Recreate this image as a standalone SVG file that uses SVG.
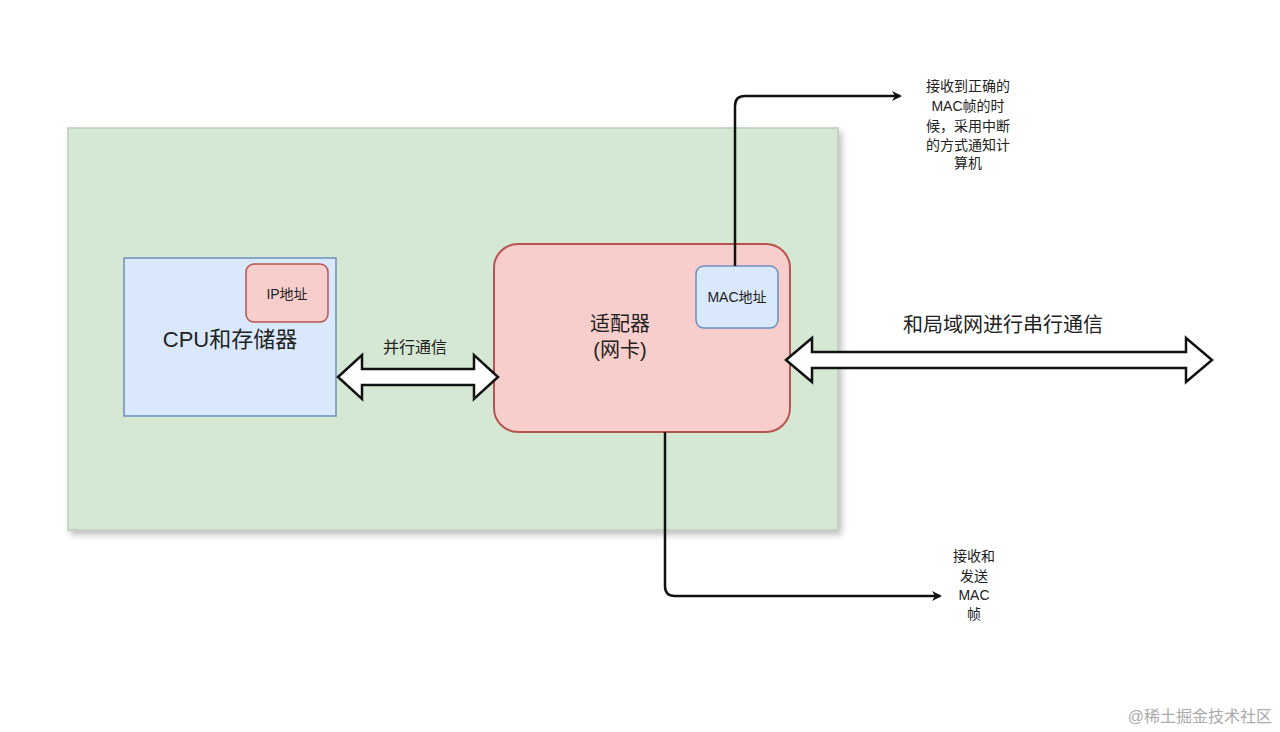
<svg xmlns="http://www.w3.org/2000/svg" width="1280" height="732" viewBox="0 0 1280 732">
<defs>
<style>
text{font-family:"Liberation Sans","Noto Sans CJK SC",sans-serif;fill:#222}
.c{stroke:#111;stroke-width:2.5;fill:none}
.da{fill:#fff;stroke:#111;stroke-width:2.5;stroke-linejoin:miter}
</style>
<marker id="ah" markerWidth="10" markerHeight="10" refX="8" refY="5" orient="auto" markerUnits="userSpaceOnUse" viewBox="0 0 10 10"><path d="M0,0 L10,5 L0,10 L3,5 Z" fill="#111"/></marker>
<filter id="sh"><feDropShadow dx="3" dy="4" stdDeviation="3" flood-opacity="0.25"/></filter>
</defs>
<rect width="1280" height="732" fill="#fff"/>
<g id="board"><rect x="68" y="128" width="770" height="402" fill="#d5e8d4" stroke="#b9cdb7" stroke-width="1.5" filter="url(#sh)"/></g>
<g id="cpu"><rect x="124" y="258" width="212" height="158" fill="#dae8fc" stroke="#6c8ebf" stroke-width="1.5"/>
<text x="230" y="347" font-size="22" text-anchor="middle">CPU和存储器</text></g>
<g id="ip"><rect x="246" y="264" width="82" height="58" rx="8" fill="#f8cecc" stroke="#b85450" stroke-width="1.5"/>
<text x="287" y="299" font-size="14" text-anchor="middle">IP地址</text></g>
<g id="adapter"><rect x="494" y="244" width="296" height="188" rx="24" fill="#f8cecc" stroke="#b85450" stroke-width="2"/>
<text x="620" y="331" font-size="20" text-anchor="middle">适配器</text>
<text x="620" y="357" font-size="20" text-anchor="middle">(网卡)</text></g>
<g id="mac"><rect x="696" y="266" width="82" height="62" rx="8" fill="#dae8fc" stroke="#6c8ebf" stroke-width="1.5"/>
<text x="737" y="302" font-size="14" text-anchor="middle">MAC地址</text></g>
<g id="connectors">
<path class="da" d="M338,377 L362,355 L362,369 L474,369 L474,355 L498,377 L474,399 L474,385 L362,385 L362,399 Z"/>
<path class="da" d="M786,360 L812,338 L812,352 L1186,352 L1186,338 L1212,360 L1186,382 L1186,368 L812,368 L812,382 Z"/>
<path class="c" d="M735,266 L735,106 Q735,96 745,96 L900,96" marker-end="url(#ah)"/>
<path class="c" d="M665,432 L665,586 Q665,596 675,596 L940,596" marker-end="url(#ah)"/>
</g>
<g id="labels">
<text x="415" y="353" font-size="16" text-anchor="middle">并行通信</text>
<text x="1003" y="332" font-size="20" text-anchor="middle">和局域网进行串行通信</text>
<g font-size="14" text-anchor="middle">
<text x="968" y="91">接收到正确的</text>
<text x="968" y="111">MAC帧的时</text>
<text x="968" y="131">候，采用中断</text>
<text x="968" y="150">的方式通知计</text>
<text x="968" y="168">算机</text>
</g>
<g font-size="14" text-anchor="middle">
<text x="974" y="561">接收和</text>
<text x="974" y="581">发送</text>
<text x="974" y="600">MAC</text>
<text x="974" y="619">帧</text>
</g>
<text x="1272" y="722" font-size="16" text-anchor="end" style="fill:#aaa">@稀土掘金技术社区</text>
</g>
</svg>
